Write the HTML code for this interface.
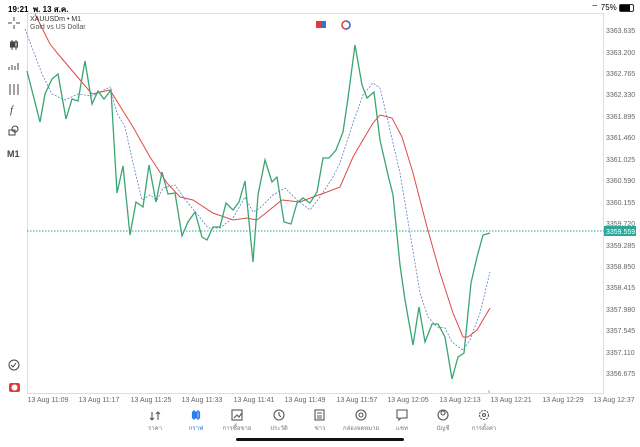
<!DOCTYPE html>
<html><head><meta charset="utf-8"><style>
*{margin:0;padding:0}
body{width:640px;height:447px;background:#fff;font-family:"Liberation Sans","Noto Sans CJK SC",sans-serif;position:relative;overflow:hidden;color:#333}
.t{position:absolute;font-size:7px;color:#666;white-space:nowrap}
</style></head><body>
<div class="t" style="left:8px;top:3px;font-size:8px;color:#000;font-weight:bold">19:21 &nbsp;พ. 13 ส.ค.</div>
<div class="t" style="left:591px;top:3px;font-size:8px;color:#000">⌔ 75% <span style="display:inline-block;width:13px;height:6px;border:1px solid #333;border-radius:2px;vertical-align:middle;background:linear-gradient(90deg,#000 75%,#fff 75%)"></span></div>
<svg width="640" height="447" style="position:absolute;left:0;top:0">
<rect x="27.5" y="13.5" width="576" height="380" fill="none" stroke="#ddd"/>
<line x1="27" y1="231" x2="604" y2="231" stroke="#2aa89a" stroke-dasharray="1.5,1.5"/>
<rect x="604" y="226" width="32" height="10" fill="#2aa89a"/>
<text x="606" y="234" font-size="7" fill="#fff" font-family="Liberation Sans">3359.559</text>
<g font-size="7" fill="#666" font-family="Liberation Sans">
<text x="606" y="33">3363.635</text><text x="606" y="55">3363.200</text><text x="606" y="76">3362.765</text><text x="606" y="97">3362.330</text><text x="606" y="119">3361.895</text><text x="606" y="140">3361.460</text><text x="606" y="162">3361.025</text><text x="606" y="183">3360.590</text><text x="606" y="205">3360.155</text><text x="606" y="226">3359.720</text><text x="606" y="248">3359.285</text><text x="606" y="269">3358.850</text><text x="606" y="290">3358.415</text><text x="606" y="312">3357.980</text><text x="606" y="333">3357.545</text><text x="606" y="355">3357.110</text><text x="606" y="376">3356.675</text>
</g>
<g font-size="7" fill="#666" font-family="Liberation Sans" text-anchor="middle">
<text x="48" y="402">13 Aug 11:09</text><text x="99" y="402">13 Aug 11:17</text><text x="151" y="402">13 Aug 11:25</text><text x="202" y="402">13 Aug 11:33</text><text x="254" y="402">13 Aug 11:41</text><text x="305" y="402">13 Aug 11:49</text><text x="357" y="402">13 Aug 11:57</text><text x="408" y="402">13 Aug 12:05</text><text x="460" y="402">13 Aug 12:13</text><text x="511" y="402">13 Aug 12:21</text><text x="563" y="402">13 Aug 12:29</text><text x="614" y="402">13 Aug 12:37</text>
</g>
<polyline fill="none" stroke="#e04848" stroke-width="1" points="35,14 50,44 58,54 75,74 92,94 110,90 133,127 150,157 167,183 180,197 193,200 213,213 233,220 247,218 257,220 267,212 282,200 300,202 313,197 327,192 340,187 353,157 357,150 373,123 380,115 392,118 402,137 413,173 427,227 440,273 453,313 463,337 468,337 477,330 490,308"/>
<polyline fill="none" stroke="#5b82c8" stroke-width="0.8" stroke-dasharray="2,1.5" points="25,29 42,74 52,94 65,100 78,94 92,96 110,87 117,113 125,127 133,163 142,200 150,195 157,200 163,188 175,185 187,202 198,215 208,228 220,228 233,218 245,197 253,212 260,208 273,195 285,188 297,200 310,210 320,197 333,177 340,163 353,123 363,95 373,83 380,88 390,130 400,173 410,233 420,293 428,317 437,327 445,328 452,342 463,350 470,340 480,313 490,272"/>
<polyline fill="none" stroke="#3aa572" stroke-width="1.3" points="27,71 40,122 45,94 52,79 58,74 66,119 72,99 78,101 85,61 92,104 98,91 104,99 111,90 117,193 123,166 130,235 136,202 143,207 149,165 156,202 162,172 168,194 175,193 182,236 188,222 195,212 202,237 207,240 213,227 220,227 226,203 233,210 239,202 245,181 253,262 258,195 265,160 272,182 277,177 284,222 291,224 297,203 303,198 310,203 317,192 323,158 329,158 336,150 343,132 348,98 355,45 362,85 367,98 374,92 380,140 388,175 393,195 400,265 405,300 413,345 419,307 425,342 432,324 438,324 445,337 452,379 458,357 464,353 471,283 477,257 483,235 490,233"/>
<rect x="316" y="21" width="5" height="7" fill="#e03c3c"/><rect x="321" y="21" width="5" height="7" fill="#3a6fd0"/>
<circle cx="346" cy="25" r="4" fill="none" stroke="#e03c3c" stroke-width="1.5"/><path d="M346 21 A4 4 0 0 1 346 29" fill="none" stroke="#3a6fd0" stroke-width="1.5"/>
<g stroke="#444" fill="none" stroke-width="1">
<path d="M14 17v4M14 25v4M8 23h4M16 23h4"/>
<path d="M12 40v10M16 40v10"/><rect x="10.5" y="42" width="3" height="5" fill="#444"/><rect x="14.5" y="42" width="3" height="5"/>
<path d="M9 70v-3M12 70v-5M15 70v-4M18 70v-7"/>
<path d="M10 84v11M14 84v11M18 84v11"/>
<circle cx="14" cy="365" r="5"/><path d="M11 365l2 2 3-4"/>
</g>
<text x="10" y="113" font-size="11" font-style="italic" fill="#444" font-family="Liberation Serif">f</text>
<circle cx="15" cy="129" r="3" fill="none" stroke="#444"/><rect x="9" y="130" width="6" height="5" fill="none" stroke="#444"/>
<text x="7" y="157" font-size="9" font-weight="bold" fill="#444" font-family="Liberation Sans">M1</text>
<rect x="9" y="383" width="11" height="9" rx="2" fill="#e03c3c"/><circle cx="14.5" cy="387.5" r="3" fill="#fff"/>
<line x1="489" y1="390" x2="489" y2="393" stroke="#aaa"/>
<g stroke="#555" fill="none" stroke-width="1.1">
<path d="M152 412v8M150 418l2 2 2-2M158 420v-8M156 414l2-2 2 2"/>
<rect x="232" y="410" width="10" height="10"/><path d="M234 418l3-3 2 2 3-4"/>
<circle cx="279" cy="415" r="5"/><path d="M279 412v3l2 2"/>
<rect x="315" y="410" width="9" height="10"/><path d="M317 413h5M317 416h5M317 418h5"/>
<circle cx="361" cy="415" r="5"/><circle cx="361" cy="415" r="2"/>
<path d="M397 410h10v8h-6l-2 2v-2h-2z"/>
<circle cx="443" cy="415" r="5"/><circle cx="443" cy="413" r="2"/>
<circle cx="484" cy="415" r="4.5" stroke-dasharray="2,1"/><circle cx="484" cy="415" r="1.5"/>
</g>
<g stroke="#2b7de9" stroke-width="1.2"><path d="M194 410v10M198 410v10"/><rect x="192.5" y="412" width="3" height="6" fill="#2b7de9"/><rect x="196.5" y="412" width="3" height="6" fill="none"/></g>
<g font-size="6" fill="#777" text-anchor="middle" font-family="Liberation Sans,Noto Sans CJK SC,sans-serif">
<text x="155" y="430">ราคา</text><text x="196" y="430" fill="#2b7de9">กราฟ</text><text x="237" y="430">การซื้อขาย</text><text x="279" y="430">ประวัติ</text><text x="320" y="430">ข่าว</text><text x="361" y="430">กล่องจดหมาย</text><text x="402" y="430">แชท</text><text x="443" y="430">บัญชี</text><text x="484" y="430">การตั้งค่า</text>
</g>
<rect x="236" y="438" width="168" height="3" rx="1.5" fill="#111"/>
</svg>
<div class="t" style="left:30px;top:16px;color:#333">XAUUSDm • M1</div>
<div class="t" style="left:30px;top:24px;color:#555">Gold vs US Dollar</div>
</body></html>
